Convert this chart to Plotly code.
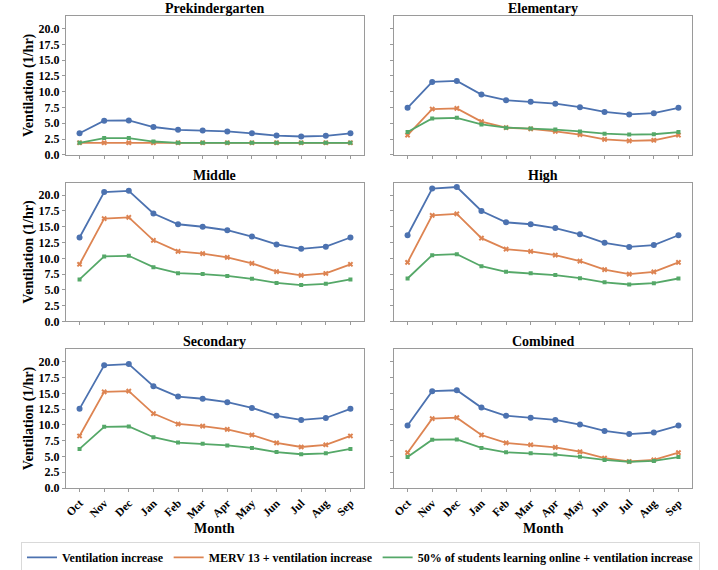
import plotly.graph_objects as go
from plotly.subplots import make_subplots

months = ["Oct", "Nov", "Dec", "Jan", "Feb", "Mar", "Apr", "May", "Jun", "Jul", "Aug", "Sep"]
panels = ["Prekindergarten", "Elementary", "Middle", "High", "Secondary", "Combined"]
series_names = ["Ventilation increase",
                "MERV 13 + ventilation increase",
                "50% of students learning online + ventilation increase"]
y_ticks = [0, 2.5, 5, 7.5, 10, 12.5, 15, 17.5, 20]

prek_vent = [3.4, 5.4, 5.45, 4.4, 3.95, 3.85, 3.7, 3.4, 3.05, 2.9, 3.0, 3.4]
prek_merv = [1.9, 1.9, 1.9, 1.9, 1.9, 1.9, 1.9, 1.9, 1.9, 1.9, 1.9, 1.9]
prek_online = [1.9, 2.65, 2.65, 2.1, 1.9, 1.9, 1.9, 1.9, 1.9, 1.9, 1.9, 1.9]

elem_vent = [7.45, 11.55, 11.7, 9.55, 8.65, 8.4, 8.1, 7.55, 6.8, 6.4, 6.6, 7.45]
elem_merv = [3.1, 7.25, 7.35, 5.25, 4.3, 4.1, 3.7, 3.2, 2.45, 2.2, 2.3, 3.1]
elem_online = [3.6, 5.75, 5.85, 4.8, 4.3, 4.15, 4.0, 3.7, 3.35, 3.2, 3.25, 3.6]

mid_vent = [13.3, 20.5, 20.7, 17.1, 15.4, 15.0, 14.45, 13.45, 12.2, 11.5, 11.85, 13.3]
mid_merv = [9.05, 16.3, 16.5, 12.85, 11.1, 10.75, 10.15, 9.2, 7.9, 7.3, 7.6, 9.05]
mid_online = [6.65, 10.3, 10.4, 8.6, 7.65, 7.5, 7.2, 6.75, 6.1, 5.75, 5.95, 6.65]

high_vent = [13.65, 21.05, 21.3, 17.5, 15.7, 15.4, 14.8, 13.8, 12.45, 11.8, 12.1, 13.65]
high_merv = [9.35, 16.8, 17.05, 13.2, 11.45, 11.1, 10.5, 9.55, 8.2, 7.5, 7.85, 9.35]
high_online = [6.8, 10.5, 10.65, 8.75, 7.85, 7.65, 7.35, 6.85, 6.2, 5.85, 6.05, 6.8]

sec_vent = [12.55, 19.45, 19.65, 16.15, 14.5, 14.15, 13.6, 12.7, 11.45, 10.8, 11.1, 12.55]
sec_merv = [8.25, 15.25, 15.35, 11.8, 10.15, 9.8, 9.3, 8.4, 7.15, 6.5, 6.85, 8.25]
sec_online = [6.2, 9.7, 9.75, 8.05, 7.2, 7.0, 6.75, 6.35, 5.7, 5.35, 5.5, 6.2]

comb_vent = [9.9, 15.35, 15.5, 12.75, 11.45, 11.15, 10.8, 10.05, 9.05, 8.55, 8.8, 9.9]
comb_merv = [5.6, 11.0, 11.15, 8.4, 7.15, 6.85, 6.45, 5.75, 4.75, 4.2, 4.45, 5.6]
comb_online = [4.9, 7.65, 7.7, 6.35, 5.65, 5.5, 5.3, 4.95, 4.45, 4.15, 4.3, 4.9]

panel_data = [
    (prek_vent, prek_merv, prek_online),
    (elem_vent, elem_merv, elem_online),
    (mid_vent, mid_merv, mid_online),
    (high_vent, high_merv, high_online),
    (sec_vent, sec_merv, sec_online),
    (comb_vent, comb_merv, comb_online),
]

colors = ["#4C72B0", "#DD8452", "#55A868"]
symbols = ["circle", "x", "square"]
msizes = [6, 5, 4]

FONT = "Liberation Serif"
FRAME = "#9a9a9a"

fig = make_subplots(rows=3, cols=2, subplot_titles=panels,
                    horizontal_spacing=0.048, vertical_spacing=0.059)

for i, data in enumerate(panel_data):
    r, c = i // 2 + 1, i % 2 + 1
    for k, vals in enumerate(data):
        fig.add_trace(go.Scatter(
            x=months, y=vals, mode="lines+markers", name=series_names[k],
            line=dict(color=colors[k], width=1.8),
            marker=dict(color=colors[k], symbol=symbols[k], size=msizes[k]),
            showlegend=False), row=r, col=c)

for k in range(3):
    fig.add_trace(go.Scatter(x=[None], y=[None], mode="lines", name=series_names[k],
                             line=dict(color=colors[k], width=1.8), showlegend=True),
                  row=1, col=1)

for i in range(6):
    r, c = i // 2 + 1, i % 2 + 1
    fig.update_xaxes(type="category", categoryorder="array", categoryarray=months,
                     range=[-0.55, 11.55], showline=True, mirror=True,
                     linecolor=FRAME, linewidth=1, ticks="outside", ticklen=3,
                     tickcolor=FRAME, showgrid=False, zeroline=False,
                     showticklabels=(r == 3), tickangle=-45, automargin=False,
                     tickfont=dict(family=FONT, size=11.5, color="black", weight="bold"),
                     row=r, col=c)
    fig.update_yaxes(range=[0, 22], tickvals=y_ticks, tickformat=".1f",
                     showline=True, mirror=True, linecolor=FRAME, linewidth=1,
                     ticks="outside", ticklen=3, tickcolor=FRAME, showgrid=False,
                     zeroline=False, showticklabels=(c == 1), automargin=False,
                     tickfont=dict(family=FONT, size=12, color="black", weight="bold"),
                     title=dict(text="Ventilation (1/hr)" if c == 1 else "",
                                font=dict(family=FONT, size=14, color="black", weight="bold"),
                                standoff=1),
                     row=r, col=c)

for ann in fig.layout.annotations:
    ann.font = dict(family=FONT, size=14, color="black", weight="bold")
    ann.yshift = -2

# "Month" axis titles under the bottom row
for xref in ["x5 domain", "x6 domain"]:
    fig.add_annotation(text="Month", xref=xref, x=0.5, yref="paper", y=-0.086,
                       xanchor="center", yanchor="middle", showarrow=False,
                       font=dict(family=FONT, size=14, color="black", weight="bold"))

fig.update_layout(
    width=718, height=570,
    margin=dict(l=66, r=26, t=16, b=82, autoexpand=False),
    paper_bgcolor="white", plot_bgcolor="white",
    font=dict(family=FONT, color="black"),
    legend=dict(orientation="h", x=-0.0719, xanchor="left", y=-0.114, yanchor="top",
                bordercolor="#d9d9d9", borderwidth=1, bgcolor="white",
                font=dict(family=FONT, size=12, color="black", weight="bold")),
)

fig.write_html("out.html", config={"displayModeBar": False},
               post_script="document.body.style.margin='0px';"
                           "document.body.style.overflow='hidden';")
